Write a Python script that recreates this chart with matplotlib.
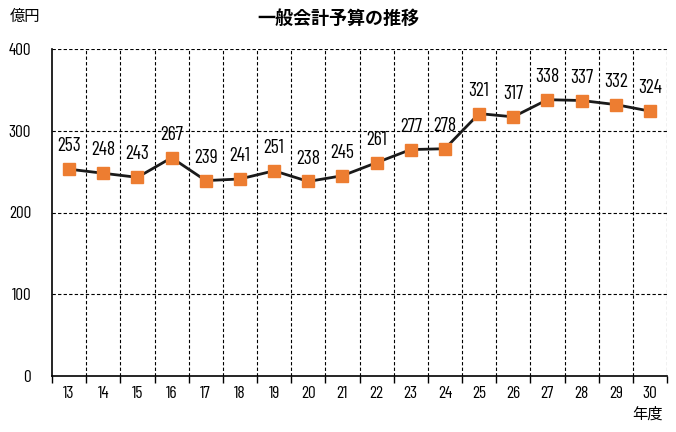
import matplotlib
matplotlib.use("Agg")
import matplotlib.pyplot as plt
from matplotlib import font_manager

years = ["13", "14", "15", "16", "17", "18", "19", "20", "21", "22", "23", "24", "25", "26", "27", "28", "29", "30"]
values = [253, 248, 243, 267, 239, 241, 251, 238, 245, 261, 277, 278, 321, 317, 338, 337, 332, 324]
y_ticks = [0, 100, 200, 300, 400]

names = {f.name for f in font_manager.fontManager.ttflist}
num_font = "DejaVu Sans"
for cand in ["Barlow Condensed", "Archivo Narrow", "Liberation Sans Narrow"]:
    if cand in names:
        num_font = cand
        break
plt.rcParams['font.family'] = [num_font, 'Noto Sans CJK JP', 'DejaVu Sans']

fig = plt.figure(figsize=(6.76, 4.32), dpi=100)
ax = fig.add_axes([52/676, 1-376/432, 615/676, 327/432])

n = len(years)
x = list(range(n))
ax.plot(x, values, color='#1a1a1a', lw=2, zorder=3)
ax.plot(x, values, ls='none', marker='s', ms=8, color='#ED7D31', zorder=4)
for xi, v in zip(x, values):
    ax.annotate(str(v), (xi, v), xytext=(0, 10), textcoords='offset points',
                ha='center', va='bottom', fontsize=14, color='black')

ax.set_xlim(-0.5, n-0.5)
ax.set_ylim(0, 400)
ax.set_yticks(y_ticks)
ax.set_yticklabels([str(t) for t in y_ticks], fontsize=12.5)
ax.set_xticks(x)
ax.set_xticklabels(years, fontsize=12.5)
ax.set_xticks([i-0.5 for i in range(n+1)], minor=True)
ax.tick_params(axis='x', which='major', length=0, pad=7)
ax.tick_params(axis='x', which='minor', length=5, width=1, direction='out')
ax.tick_params(axis='y', length=0, pad=15)

for yv in [100, 200, 300, 400]:
    ax.axhline(yv, color='black', lw=0.8, ls=(0, (3, 2)), zorder=1)
for i in range(1, n+1):
    ax.axvline(i-0.5, color='black', lw=0.8, ls=(0, (3, 2)), zorder=1)

for s in ['top', 'right']:
    ax.spines[s].set_visible(False)
ax.spines['left'].set_linewidth(1.2)
ax.spines['bottom'].set_linewidth(1.2)

fig.text(338/676, 1-18/432, "一般会計予算の推移", ha='center', va='center', fontsize=13, fontweight='bold', family=['Noto Sans CJK JP'])
fig.text(10/676, 1-16/432, "億円", ha='left', va='center', fontsize=11, family=['Noto Sans CJK JP'])
fig.text(663/676, 1-414/432, "年度", ha='right', va='center', fontsize=11, family=['Noto Sans CJK JP'])

fig.savefig("out.png", dpi=100)
